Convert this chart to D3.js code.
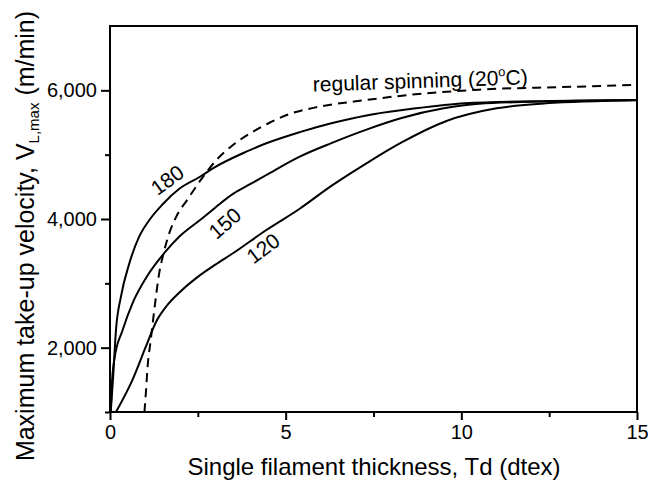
<!DOCTYPE html>
<html>
<head>
<meta charset="utf-8">
<script src="https://cdn.jsdelivr.net/npm/d3@7"></script>
<style>
  body { margin: 0; background: #fff; }
  svg { font-family: "Liberation Sans", Arial, sans-serif; }
</style>
</head>
<body>
<div id="chart"></div>
<script>
// values: [thickness dtex, velocity m/min]
const curve180 = [[0.02,1000],[0.09,1550],[0.17,2275],[0.31,2790],[0.55,3310],[0.83,3725],[1.12,3984],
  [1.5,4230],[1.99,4477],[2.56,4657],[2.93,4788],[3.88,5046],[4.45,5177],[5.4,5350],[6.3,5488],
  [7.3,5610],[8.5,5705],[10.1,5800],[12.5,5835],[15,5850]]
const curve150 = [[0.02,1000],[0.05,1400],[0.12,1808],[0.36,2275],[0.64,2690],[1.02,3080],[1.59,3500],
  [1.99,3735],[2.6,4000],[3.0,4180],[3.5,4390],[4.0,4545],[4.45,4684],[5.4,4970],[6.3,5180],
  [7.3,5390],[8.3,5570],[9.5,5720],[10.5,5790],[12.5,5830],[15,5850]]
const curve120 = [[0.17,1000],[0.64,1500],[1.02,2015],[1.31,2400],[1.6,2640],[2.0,2870],[2.5,3100],
  [3.0,3290],[3.5,3467],[4.45,3829],[5.4,4160],[6.3,4515],[7.3,4866],[8.3,5190],[9.56,5520],
  [11.0,5720],[12.4,5798],[15,5845]]
const regular = [[0.98,1000],[1.02,1290],[1.07,1704],[1.16,2119],[1.26,2585],[1.4,3156],[1.54,3500],
  [1.7,3800],[1.9,4050],[2.2,4300],[2.6,4620],[3.03,4917],[3.5,5150],[4.07,5357],[4.55,5500],
  [5.1,5630],[5.9,5740],[7.3,5850],[8.5,5928],[10.5,6010],[13.3,6057],[15,6085]]

const xMajor = [0, 5, 10, 15]
const xMinor = [2.5, 7.5, 12.5]
const yMajor = [2000, 4000, 6000]
const yMinor = [1000, 3000, 5000]

const W = 648, H = 482
const m = { left: 110, right: 637, top: 26, bottom: 412 }

const svg = d3.select("#chart").append("svg")
  .attr("width", W)
  .attr("height", H)

const x = d3.scaleLinear().domain([0, 15]).range([m.left, m.right])
const y = d3.scaleLinear().domain([1000, 7000]).range([m.bottom, m.top])

svg.append("clipPath").attr("id", "clip")
  .append("rect")
  .attr("x", m.left).attr("y", m.top)
  .attr("width", m.right - m.left).attr("height", m.bottom - m.top)

const line = d3.line()
  .x(d => x(d[0]))
  .y(d => y(d[1]))
  .curve(d3.curveMonotoneX)

const plot = svg.append("g").attr("clip-path", "url(#clip)")

;[curve180, curve150, curve120].forEach(c => {
  plot.append("path")
    .datum(c)
    .attr("d", line)
    .attr("fill", "none")
    .attr("stroke", "#000")
    .attr("stroke-width", 2)
})

plot.append("path")
  .datum(regular)
  .attr("d", line)
  .attr("fill", "none")
  .attr("stroke", "#000")
  .attr("stroke-width", 2)
  .attr("stroke-dasharray", "9,6")

// axes
const xAxis = d3.axisBottom(x).tickValues(xMajor).tickSize(8).tickPadding(5)
const gx = svg.append("g")
  .attr("transform", `translate(0,${m.bottom})`)
  .call(xAxis)
gx.selectAll("text").attr("font-size", 20).attr("font-family", null)

svg.append("g")
  .attr("transform", `translate(0,${m.bottom})`)
  .call(d3.axisBottom(x).tickValues(xMinor).tickSize(5).tickFormat(""))

const yAxis = d3.axisLeft(y).tickValues(yMajor).tickSize(9).tickPadding(4).tickFormat(d3.format(","))
const gy = svg.append("g")
  .attr("transform", `translate(${m.left},0)`)
  .call(yAxis)
gy.selectAll("text").attr("font-size", 20).attr("font-family", null)

svg.append("g")
  .attr("transform", `translate(${m.left},0)`)
  .call(d3.axisLeft(y).tickValues(yMinor).tickSize(5).tickFormat(""))

svg.selectAll(".domain").remove()
svg.selectAll(".tick line").attr("stroke", "#000").attr("stroke-width", 2)

svg.append("rect")
  .attr("x", m.left).attr("y", m.top)
  .attr("width", m.right - m.left).attr("height", m.bottom - m.top)
  .attr("fill", "none")
  .attr("stroke", "#000")
  .attr("stroke-width", 2)

// axis titles
svg.append("text")
  .attr("x", 374)
  .attr("y", 475)
  .attr("text-anchor", "middle")
  .attr("font-size", 24)
  .text("Single filament thickness, Td (dtex)")

const yt = svg.append("text")
  .attr("transform", "translate(34,236) rotate(-90)")
  .attr("text-anchor", "middle")
  .attr("font-size", 25)
yt.append("tspan").text("Maximum take-up velocity, V")
yt.append("tspan").attr("font-size", 15).attr("dy", 5).text("L,max")
yt.append("tspan").attr("dy", -5).text(" (m/min)")

// curve labels
const labels = [
  { t: "180", x: 1.63, y: 4606, a: -36 },
  { t: "150", x: 3.27, y: 3933, a: -41 },
  { t: "120", x: 4.36, y: 3545, a: -37 }
]
labels.forEach(l => {
  svg.append("text")
    .attr("transform", `translate(${x(l.x)},${y(l.y)}) rotate(${l.a})`)
    .attr("text-anchor", "middle")
    .attr("dy", "0.35em")
    .attr("font-size", 21)
    .text(l.t)
})

const rt = svg.append("text")
  .attr("transform", `translate(${x(5.78)},${y(5980)}) rotate(-2)`)
  .attr("font-size", 21)
rt.append("tspan").text("regular spinning (20")
rt.append("tspan").attr("font-size", 13).attr("dy", -9).text("o")
rt.append("tspan").attr("dy", 9).text("C)")
</script>
</body>
</html>
